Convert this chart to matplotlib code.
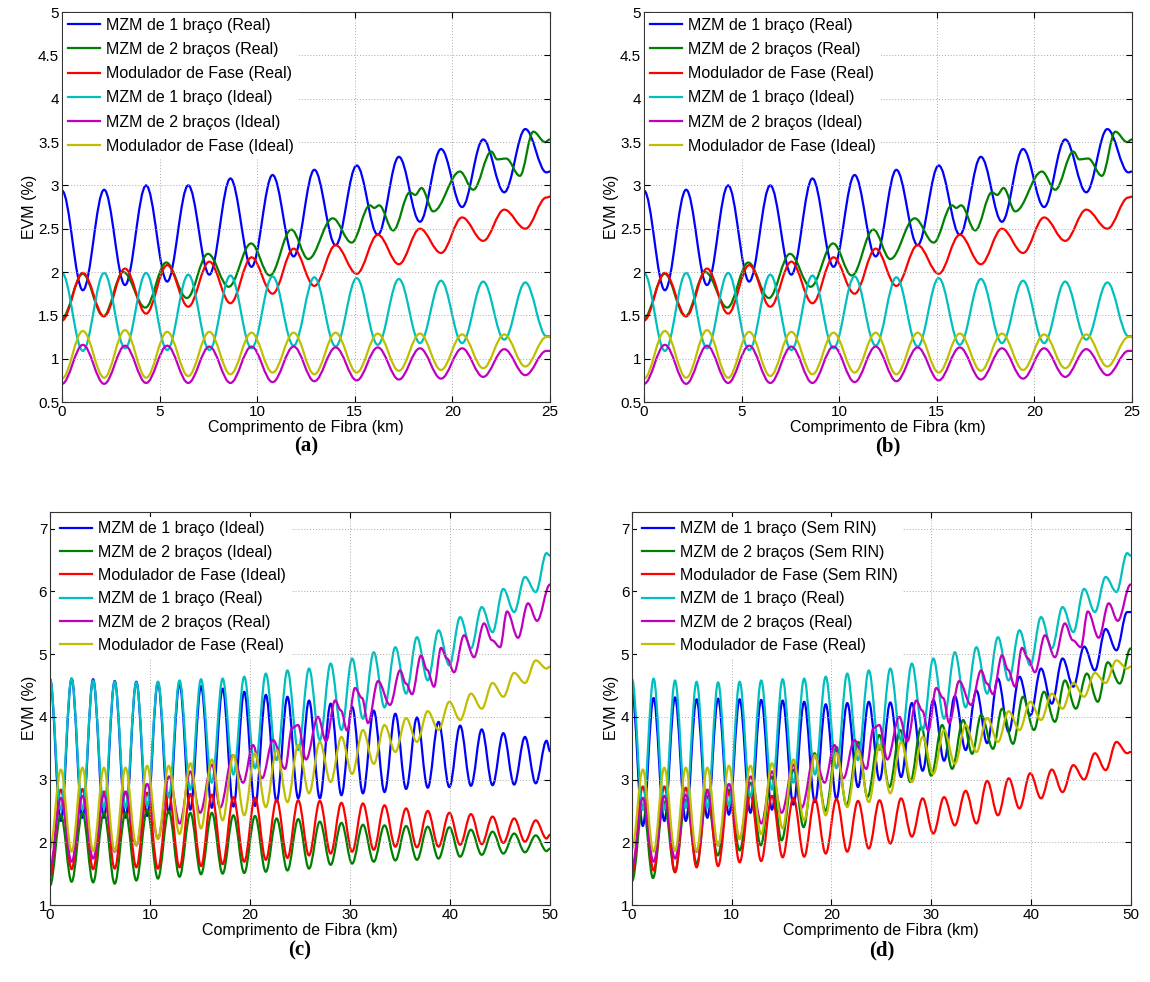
import matplotlib
matplotlib.use('Agg')
import matplotlib.pyplot as plt
from matplotlib.path import Path
from matplotlib.patches import PathPatch
from matplotlib.lines import Line2D
from matplotlib.ticker import FuncFormatter

plt.rcParams['font.family'] = ['Liberation Sans', 'DejaVu Sans']

# ---- panels (a)/(b): 25 km, peaks/troughs ----
ext_a = [0, 1.07, 2.16, 3.23, 4.31, 5.39, 6.47, 7.55, 8.63, 9.71, 10.79, 11.87, 12.93,
         14.02, 15.1, 16.18, 17.26, 18.34, 19.42, 20.5, 21.58, 22.66, 23.74, 24.82, 25]
a_blue = [2.94, 1.79, 2.95, 1.85, 3.00, 1.89, 3.00, 1.97, 3.08, 2.06, 3.12, 2.18, 3.18,
          2.31, 3.23, 2.43, 3.33, 2.58, 3.42, 2.75, 3.53, 2.92, 3.65, 3.15, 3.16]
a_red = [1.44, 1.99, 1.49, 2.04, 1.52, 2.08, 1.60, 2.12, 1.64, 2.17, 1.75, 2.27, 1.84,
         2.31, 1.98, 2.43, 2.09, 2.50, 2.22, 2.63, 2.36, 2.72, 2.50, 2.86, 2.87]
a_cyan = [1.99, 1.09, 1.99, 1.12, 1.99, 1.10, 1.97, 1.10, 1.96, 1.12, 1.95, 1.15, 1.94,
          1.14, 1.93, 1.16, 1.92, 1.18, 1.90, 1.18, 1.89, 1.22, 1.88, 1.26, 1.26]
a_mag = [0.71, 1.16, 0.71, 1.15, 0.72, 1.15, 0.72, 1.14, 0.72, 1.14, 0.73, 1.14, 0.74,
         1.13, 0.75, 1.13, 0.76, 1.12, 0.77, 1.12, 0.79, 1.11, 0.81, 1.09, 1.09]
a_yel = [0.77, 1.32, 0.78, 1.33, 0.78, 1.31, 0.80, 1.31, 0.82, 1.30, 0.84, 1.30, 0.82,
         1.30, 0.84, 1.29, 0.86, 1.29, 0.87, 1.28, 0.89, 1.28, 0.91, 1.25, 1.25]
a_green_x = [0, 1.06, 2.12, 3.14, 4.27, 5.34, 6.40, 7.48, 8.54, 9.69, 10.65, 11.75, 12.62,
             13.87, 14.84, 15.78, 16.0, 16.25, 16.97, 17.83, 18.1, 18.42, 19.02, 20.39,
             21.07, 22.0, 22.3, 22.76, 23.46, 24.15, 24.75, 25]
a_green = [1.47, 1.98, 1.49, 2.00, 1.59, 2.11, 1.70, 2.21, 1.83, 2.33, 1.96, 2.49, 2.15,
           2.62, 2.34, 2.77, 2.74, 2.77, 2.48, 2.92, 2.89, 2.97, 2.70, 3.16, 2.95, 3.39,
           3.30, 3.31, 3.11, 3.62, 3.50, 3.53]

# ---- panels (c)/(d): 50 km ----
ext_c = [0, 1.08, 2.16, 3.24, 4.31, 5.39, 6.47, 7.55, 8.63, 9.71, 10.79, 11.87, 12.95,
         14.03, 15.1, 16.18, 17.26, 18.34, 19.42, 20.5, 21.58, 22.66, 23.74, 24.82, 25.9,
         26.98, 28.06, 29.14, 30.21, 31.29, 32.37, 33.45, 34.53, 35.61, 36.69, 37.77,
         38.85, 39.93, 41.01, 42.09, 43.17, 44.25, 45.33, 46.41, 47.49, 48.57, 49.65, 50]
c_blue = [4.60, 2.34, 4.61, 2.39, 4.60, 2.39, 4.57, 2.39, 4.56, 2.42, 4.55, 2.47, 4.53,
          2.52, 4.49, 2.55, 4.45, 2.57, 4.40, 2.58, 4.35, 2.65, 4.32, 2.70, 4.26, 2.70,
          4.21, 2.75, 4.16, 2.78, 4.10, 2.80, 4.05, 2.85, 3.99, 2.87, 3.92, 2.88, 3.86,
          2.90, 3.80, 2.91, 3.74, 2.92, 3.68, 2.94, 3.62, 3.45]
c_green = [1.31, 2.44, 1.37, 2.47, 1.36, 2.47, 1.34, 2.47, 1.39, 2.52, 1.42, 2.50, 1.45,
           2.47, 1.49, 2.47, 1.50, 2.43, 1.51, 2.42, 1.53, 2.38, 1.55, 2.37, 1.58, 2.33,
           1.64, 2.31, 1.66, 2.28, 1.69, 2.27, 1.71, 2.26, 1.72, 2.25, 1.74, 2.24, 1.77,
           2.20, 1.80, 2.17, 1.82, 2.14, 1.84, 2.11, 1.86, 1.90]
c_red = [1.45, 2.84, 1.57, 2.85, 1.57, 2.81, 1.58, 2.80, 1.60, 2.79, 1.58, 2.78, 1.60,
         2.77, 1.62, 2.76, 1.65, 2.72, 1.69, 2.71, 1.72, 2.68, 1.75, 2.67, 1.79, 2.66,
         1.82, 2.63, 1.85, 2.62, 1.88, 2.59, 1.93, 2.54, 1.92, 2.50, 1.93, 2.47, 1.96,
         2.45, 1.97, 2.41, 1.99, 2.38, 2.01, 2.35, 2.06, 2.12]
c_cyan = [4.60, 2.52, 4.61, 2.52, 4.58, 2.55, 4.56, 2.55, 4.55, 2.58, 4.56, 2.72, 4.58,
          2.84, 4.60, 2.95, 4.61, 3.08, 4.64, 3.18, 4.69, 3.31, 4.74, 3.47, 4.77, 3.63,
          4.85, 3.79, 4.93, 3.97, 5.03, 4.15, 5.11, 4.37, 5.27, 4.58, 5.38, 4.82, 5.59,
          5.09, 5.75, 5.35, 6.04, 5.67, 6.23, 5.99, 6.61, 6.57]
c_yel = [1.90, 3.16, 1.85, 3.19, 1.86, 3.19, 1.86, 3.19, 1.95, 3.22, 2.05, 3.22, 2.13,
         3.26, 2.22, 3.32, 2.35, 3.39, 2.43, 3.42, 2.56, 3.47, 2.64, 3.55, 2.78, 3.60,
         2.96, 3.68, 3.09, 3.79, 3.25, 3.87, 3.44, 3.98, 3.60, 4.09, 3.79, 4.24, 3.95,
         4.37, 4.13, 4.54, 4.32, 4.70, 4.54, 4.90, 4.77, 4.80]
c_mag_x = [0, 1.08, 2.16, 3.24, 4.31, 5.39, 6.47, 7.55, 8.63, 9.71, 10.79, 11.9, 12.97,
           14.03, 15.0, 16.2, 17.0, 18.3, 19.3, 20.3, 21.2, 22.3, 23.5, 24.2, 24.8, 25.6,
           26.8, 27.6, 28.5, 29.1, 29.7, 30.5, 31.2, 31.8, 32.8, 34.0, 35.0, 35.6, 36.2,
           37.1, 37.7, 38.4, 39.1, 39.7, 40.4, 41.4, 42.4, 43.4, 44.2, 45.0, 45.7, 46.8,
           47.8, 48.7, 50]
c_mag = [1.60, 2.71, 1.69, 2.74, 1.74, 2.76, 1.85, 2.81, 1.95, 2.93, 2.06, 3.05, 2.30,
         3.13, 2.47, 3.24, 2.55, 3.39, 2.95, 3.55, 3.02, 3.63, 3.17, 3.82, 3.87, 3.32,
         4.00, 3.61, 4.26, 4.10, 3.78, 4.46, 4.30, 3.90, 4.57, 4.19, 4.74, 4.53, 4.36,
         4.98, 4.75, 4.48, 5.10, 4.93, 4.71, 5.30, 4.95, 5.49, 5.22, 5.11, 5.68, 5.26,
         5.81, 5.53, 6.11]
d_blue = [4.40, 2.26, 4.30, 2.34, 4.31, 2.34, 4.28, 2.39, 4.29, 2.44, 4.28, 2.47, 4.27,
          2.52, 4.26, 2.60, 4.24, 2.64, 4.20, 2.69, 4.22, 2.88, 4.24, 2.99, 4.23, 3.04,
          4.22, 3.14, 4.27, 3.30, 4.33, 3.47, 4.42, 3.58, 4.61, 3.76, 4.64, 4.02, 4.77,
          4.21, 4.93, 4.48, 5.12, 4.74, 5.40, 5.06, 5.67, 5.67]
d_red = [1.50, 2.89, 1.55, 2.89, 1.52, 2.87, 1.60, 2.84, 1.62, 2.79, 1.68, 2.76, 1.70,
         2.74, 1.76, 2.71, 1.77, 2.69, 1.82, 2.69, 1.85, 2.66, 1.90, 2.67, 1.98, 2.70,
         2.09, 2.70, 2.14, 2.72, 2.27, 2.82, 2.30, 2.98, 2.43, 3.02, 2.54, 3.10, 2.70,
         3.16, 2.80, 3.23, 3.00, 3.42, 3.15, 3.60, 3.42, 3.44]
d_green_x = [0, 1.1, 2.1, 3.2, 4.3, 5.4, 6.5, 7.5, 8.6, 9.7, 10.8, 11.9, 12.9, 14.0, 15.0,
             16.2, 17.2, 18.3, 19.4, 20.5, 21.5, 22.7, 23.6, 24.8, 25.8, 26.9, 27.9, 29.0,
             30.0, 31.1, 32.1, 33.2, 34.1, 35.0, 36.2, 37.1, 38.2, 39.2, 40.3, 41.3, 42.4,
             43.4, 44.5, 45.6, 46.7, 47.7, 48.9, 50]
d_green = [1.38, 2.60, 1.43, 2.65, 1.53, 2.68, 1.66, 2.74, 1.79, 2.84, 1.87, 2.95, 1.95,
           3.05, 2.03, 3.16, 2.24, 3.42, 2.50, 3.52, 2.59, 3.60, 2.72, 3.71, 2.88, 3.79,
           2.96, 3.84, 3.06, 3.87, 3.17, 3.95, 3.41, 4.03, 3.49, 4.13, 3.57, 4.32, 3.79,
           4.40, 3.92, 4.58, 4.13, 4.69, 4.24, 4.87, 4.53, 5.09]

ticks_a = [0.5, 1, 1.5, 2, 2.5, 3, 3.5, 4, 4.5, 5]
ticks_c = [1, 2, 3, 4, 5, 6, 7]

C_B, C_G, C_R = (0, 0, 1), (0, 0.5, 0), (1, 0, 0)
C_C, C_M, C_Y = (0, 0.75, 0.75), (0.75, 0, 0.75), (0.75, 0.75, 0)

lbl_real = ['MZM de 1 braço (Real)', 'MZM de 2 braços (Real)', 'Modulador de Fase (Real)']
lbl_ideal = ['MZM de 1 braço (Ideal)', 'MZM de 2 braços (Ideal)', 'Modulador de Fase (Ideal)']
lbl_sem = ['MZM de 1 braço (Sem RIN)', 'MZM de 2 braços (Sem RIN)', 'Modulador de Fase (Sem RIN)']


def wave(ax, xs, ys, color):
    # smooth curve through the read extrema (flat tangent at each one)
    verts = [(xs[0], ys[0])]
    codes = [Path.MOVETO]
    for i in range(1, len(xs)):
        d = (xs[i] - xs[i - 1]) * 0.36
        verts += [(xs[i - 1] + d, ys[i - 1]), (xs[i] - d, ys[i]), (xs[i], ys[i])]
        codes += [Path.CURVE4] * 3
    ax.add_patch(PathPatch(Path(verts, codes), fill=False, edgecolor=color, lw=1.6,
                           capstyle='round', joinstyle='round'))


def setup(ax, xmax, xstep, ylim, yticks, series, labels, lspace, lpad):
    for xs, ys, c in series:
        wave(ax, xs, ys, c)
    ax.set_xlim(0, xmax)
    ax.set_ylim(*ylim)
    ax.set_xticks(range(0, xmax + 1, xstep))
    ax.set_yticks(yticks)
    ax.yaxis.set_major_formatter(FuncFormatter(lambda v, p: '%g' % v))
    ax.tick_params(direction='in', top=True, right=True, labelsize=11, pad=2, length=4)
    ax.grid(True, linestyle=(0, (1, 2)), color='#a8a8a8', lw=0.7)
    for s in ax.spines.values():
        s.set_linewidth(0.8)
        s.set_color('#333333')
    ax.set_xlabel('Comprimento de Fibra (km)', fontsize=11.5, labelpad=1)
    ax.set_ylabel('EVM (%)', fontsize=11.5, labelpad=1)
    handles = [Line2D([], [], color=c, lw=1.6) for _, _, c in series]
    leg = ax.legend(handles, labels, loc='upper left', fontsize=11.5, frameon=True,
                    framealpha=1, edgecolor='white', fancybox=False, handlelength=2.0,
                    handletextpad=0.4, labelspacing=lspace, borderaxespad=lpad,
                    borderpad=0.3)
    leg.get_frame().set_linewidth(0)


fig = plt.figure(figsize=(11.5, 9.82), dpi=100)
ax_a = fig.add_axes([0.0539, 0.5906, 0.4243, 0.3971])
ax_b = fig.add_axes([0.5600, 0.5906, 0.4243, 0.3971])
ax_c = fig.add_axes([0.0435, 0.0784, 0.4348, 0.4005])
ax_d = fig.add_axes([0.5496, 0.0784, 0.4336, 0.4005])

series_a = [(ext_a, a_blue, C_B), (a_green_x, a_green, C_G), (ext_a, a_red, C_R),
            (ext_a, a_cyan, C_C), (ext_a, a_mag, C_M), (ext_a, a_yel, C_Y)]
for ax in (ax_a, ax_b):
    setup(ax, 25, 5, (0.5, 5), ticks_a, series_a, lbl_real + lbl_ideal, 0.58, 0.05)

series_c = [(ext_c, c_blue, C_B), (ext_c, c_green, C_G), (ext_c, c_red, C_R),
            (ext_c, c_cyan, C_C), (c_mag_x, c_mag, C_M), (ext_c, c_yel, C_Y)]
setup(ax_c, 50, 10, (1, 7.27), ticks_c, series_c, lbl_ideal + lbl_real, 0.52, 0.3)

series_d = [(ext_c, d_blue, C_B), (d_green_x, d_green, C_G), (ext_c, d_red, C_R),
            (ext_c, c_cyan, C_C), (c_mag_x, c_mag, C_M), (ext_c, c_yel, C_Y)]
setup(ax_d, 50, 10, (1, 7.27), ticks_c, series_d, lbl_sem + lbl_real, 0.52, 0.3)

for ax, tag, y in ((ax_a, '(a)', 0.545), (ax_b, '(b)', 0.545),
                   (ax_c, '(c)', 0.032), (ax_d, '(d)', 0.032)):
    pos = ax.get_position()
    fig.text((pos.x0 + pos.x1) / 2, y, tag, ha='center', va='center',
             fontsize=15, fontweight='bold', family='Liberation Serif')

fig.savefig('out.png', dpi=100)
